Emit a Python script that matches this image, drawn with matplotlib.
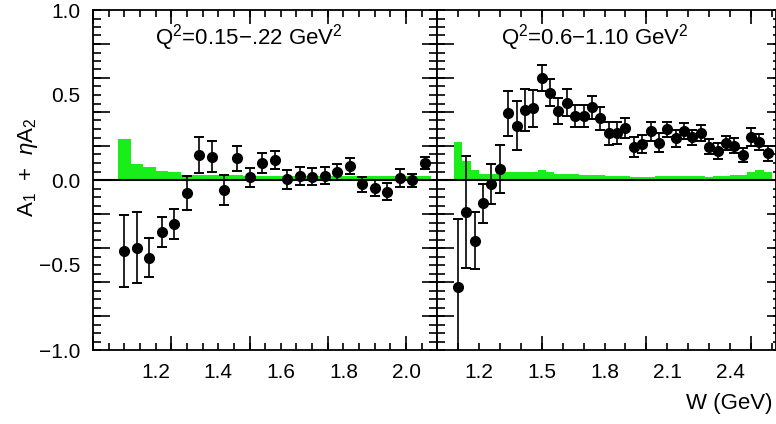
import matplotlib
matplotlib.use('Agg')
import matplotlib.pyplot as plt
from matplotlib.ticker import MultipleLocator

plt.rcParams['font.family'] = ['Liberation Sans', 'DejaVu Sans']
plt.rcParams['mathtext.fontset'] = 'custom'
plt.rcParams['mathtext.rm'] = 'Liberation Sans'
plt.rcParams['mathtext.it'] = 'Liberation Sans:italic'

# ---------------- data ----------------
w_low = [1.10, 1.14, 1.18, 1.22, 1.26, 1.30, 1.34, 1.38, 1.42, 1.46, 1.50, 1.54, 1.58,
         1.62, 1.66, 1.70, 1.74, 1.78, 1.82, 1.86, 1.90, 1.94, 1.98, 2.02, 2.06]
a_low = [-0.418, -0.398, -0.457, -0.308, -0.259, -0.078, 0.145, 0.137, -0.059, 0.127,
         0.016, 0.098, 0.118, 0.004, 0.025, 0.020, 0.025, 0.047, 0.084, -0.025, -0.045,
         -0.069, 0.010, -0.002, 0.102]
e_low = [0.21, 0.21, 0.115, 0.088, 0.09, 0.10, 0.106, 0.09, 0.09, 0.073, 0.056, 0.058,
         0.054, 0.056, 0.052, 0.05, 0.05, 0.046, 0.046, 0.045, 0.047, 0.05, 0.052, 0.04,
         0.035]
sys_low = [0.241, 0.094, 0.078, 0.055, 0.045, 0.031, 0.029, 0.029, 0.027, 0.027, 0.025,
           0.025, 0.024, 0.024, 0.024, 0.023, 0.023, 0.022, 0.022, 0.022, 0.024, 0.025,
           0.025, 0.025, 0.025]

w_high = [1.10, 1.14, 1.18, 1.22, 1.26, 1.30, 1.34, 1.38, 1.42, 1.46, 1.50, 1.54, 1.58,
          1.62, 1.66, 1.70, 1.74, 1.78, 1.82, 1.86, 1.90, 1.94, 1.98, 2.02, 2.06, 2.10,
          2.14, 2.18, 2.22, 2.26, 2.30, 2.34, 2.38, 2.42, 2.46, 2.50, 2.54, 2.58]
a_high = [-0.627, -0.186, -0.357, -0.137, -0.024, 0.063, 0.392, 0.318, 0.412, 0.422,
          0.602, 0.514, 0.406, 0.455, 0.376, 0.376, 0.427, 0.363, 0.275, 0.275, 0.304,
          0.196, 0.212, 0.288, 0.220, 0.298, 0.245, 0.290, 0.251, 0.275, 0.196, 0.171,
          0.220, 0.202, 0.147, 0.255, 0.222, 0.157]
e_high = [0.40, 0.33, 0.168, 0.113, 0.12, 0.14, 0.133, 0.144, 0.125, 0.11, 0.076, 0.08,
          0.078, 0.08, 0.066, 0.063, 0.066, 0.069, 0.068, 0.066, 0.059, 0.059, 0.054,
          0.056, 0.054, 0.046, 0.052, 0.048, 0.046, 0.047, 0.043, 0.046, 0.041, 0.044,
          0.039, 0.053, 0.048, 0.043]
sys_high = [0.222, 0.114, 0.059, 0.035, 0.035, 0.049, 0.049, 0.045, 0.049, 0.045, 0.059,
            0.045, 0.037, 0.035, 0.033, 0.031, 0.029, 0.027, 0.025, 0.024, 0.022, 0.018,
            0.018, 0.020, 0.022, 0.022, 0.024, 0.022, 0.024, 0.022, 0.020, 0.022, 0.025,
            0.027, 0.029, 0.049, 0.059, 0.047]

bin_width = 0.04

xlabels_low = [1.2, 1.4, 1.6, 1.8, 2.0]
xlabels_high = [1.2, 1.5, 1.8, 2.1, 2.4]
ylabels = [-1.0, -0.5, 0.0, 0.5, 1.0]

title_low = r'Q$^2$=0.15$-$.22 GeV$^2$'
title_high = r'Q$^2$=0.6$-$1.10 GeV$^2$'

GREEN = '#1aee1a'
FS = 15

fig = plt.figure(figsize=(7.76, 4.24), dpi=100)
W, H = 776.0, 424.0
ax1 = fig.add_axes([93 / W, 74 / H, 344 / W, 340 / H])
ax2 = fig.add_axes([437 / W, 74 / H, 338.5 / W, 340 / H])


def style(ax, xlim, xlab, xmaj, xmin, ylab_on, right_major, right_minor):
    ax.set_xlim(*xlim)
    ax.set_ylim(-1.0, 1.0)
    for s in ax.spines.values():
        s.set_linewidth(1.3)
    # labels only on the main axis
    ax.set_xticks(xlab)
    ax.set_xticklabels([f'{v:.1f}' for v in xlab])
    ax.set_yticks(ylabels)
    if ylab_on:
        ax.set_yticklabels([f'{v:.1f}'.replace('-', '\u2212') for v in ylabels])
    else:
        ax.set_yticklabels([])
    ax.tick_params(which='both', length=0, labelsize=FS, pad=9)
    # tick marks on secondary axes
    for loc in ('bottom', 'top'):
        sec = ax.secondary_xaxis(loc)
        sec.set_xticks(xmaj)
        sec.xaxis.set_minor_locator(MultipleLocator(xmin))
        sec.xaxis.remove_overlapping_locs = False
        sec.tick_params(which='major', direction='in', length=10, width=1.2,
                        labelbottom=False, labeltop=False)
        sec.tick_params(which='minor', direction='in', length=5, width=1.2)
        for s in sec.spines.values():
            s.set_visible(False)
    yl = ax.secondary_yaxis('left')
    yl.set_yticks([-0.8, -0.6, -0.4, -0.2, 0.0, 0.2, 0.4, 0.6, 0.8])
    yl.yaxis.set_minor_locator(MultipleLocator(0.05))
    yl.yaxis.remove_overlapping_locs = False
    yl.tick_params(which='major', direction='in', length=12, width=1.2, labelleft=False)
    yl.tick_params(which='minor', direction='in', length=5.5, width=1.2)
    for s in yl.spines.values():
        s.set_visible(False)
    yr = ax.secondary_yaxis('right')
    yr.set_yticks([-0.8, -0.6, -0.4, -0.2, 0.0, 0.2, 0.4, 0.6, 0.8])
    yr.yaxis.set_minor_locator(MultipleLocator(0.05))
    yr.yaxis.remove_overlapping_locs = False
    yr.tick_params(which='major', direction='in', length=right_major, width=1.2,
                   labelright=False)
    yr.tick_params(which='minor', direction='in', length=right_minor, width=1.2)
    for s in yr.spines.values():
        s.set_visible(False)


style(ax1, (1.0, 2.099), xlabels_low, [1.0, 1.25, 1.5, 1.75, 2.0], 0.05, True, 11, 5.5)
style(ax2, (1.0, 2.6165), xlabels_high, [1.0, 1.5, 2.0, 2.5], 0.1, False, 6.5, 2)

for ax, w, a, e, s in ((ax1, w_low, a_low, e_low, sys_low),
                       (ax2, w_high, a_high, e_high, sys_high)):
    ax.bar(w, s, width=bin_width, color=GREEN, linewidth=0, zorder=1)
    ax.axhline(0.0, color='black', linewidth=1.5, zorder=2)
    ax.errorbar(w, a, yerr=e, fmt='o', color='black', ms=7, capsize=3.8,
                elinewidth=1.2, capthick=1.4, zorder=3)

ax1.text(0.18, 0.92, title_low, transform=ax1.transAxes, fontsize=16,
         ha='left', va='center')
ax2.text(0.188, 0.92, title_high, transform=ax2.transAxes, fontsize=16,
         ha='left', va='center')

fig.text(28 / W, 1 - 167 / H, r'A$_1$  +  $\eta$A$_2$', rotation=90,
         fontsize=16, ha='center', va='center')
fig.text(773 / W, 1 - 404 / H, 'W (GeV)', fontsize=16, ha='right', va='center')

fig.savefig('out.png', dpi=100)
